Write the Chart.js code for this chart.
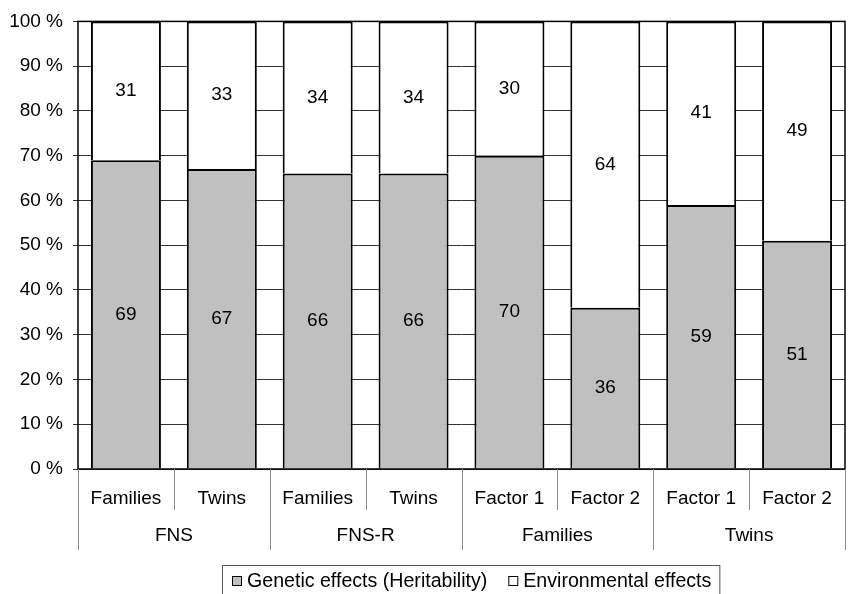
<!DOCTYPE html>
<html>
<head>
<meta charset="utf-8">
<script src="https://cdn.jsdelivr.net/npm/chart.js@4.4.0/dist/chart.umd.min.js"></script>
<style>
  html, body { margin: 0; padding: 0; background: #fff; }
  #wrap { position: relative; width: 849px; height: 594px; }
</style>
</head>
<body>
<div id="wrap"><canvas id="chart"></canvas></div>
<script>
'use strict';

const categories = ['Families', 'Twins', 'Families', 'Twins', 'Factor 1', 'Factor 2', 'Factor 1', 'Factor 2'];
const groups = ['FNS', 'FNS-R', 'Families', 'Twins'];
const genetic = [69, 67, 66, 66, 70, 36, 59, 51];
const environmental = [31, 33, 34, 34, 30, 64, 41, 49];
const seriesNames = ['Genetic effects (Heritability)', 'Environmental effects'];
const seriesColors = ['#c0c0c0', '#ffffff'];

const FAMILY = '"Liberation Sans", Arial, sans-serif';
const FONT = '19px ' + FAMILY;

// numbers in the middle of every bar segment
const segmentLabels = {
  id: 'segmentLabels',
  afterDatasetsDraw(chart) {
    const ctx = chart.ctx;
    ctx.save();
    ctx.font = FONT;
    ctx.fillStyle = '#000';
    ctx.textAlign = 'center';
    ctx.textBaseline = 'middle';
    chart.data.datasets.forEach((ds, i) => {
      chart.getDatasetMeta(i).data.forEach((bar, j) => {
        ctx.fillText(ds.data[j], bar.x, (bar.y + bar.base) / 2);
      });
    });
    ctx.restore();
  }
};

// frame, grouped x axis and boxed legend
const frameAndGroups = {
  id: 'frameAndGroups',
  afterDraw(chart) {
    const ctx = chart.ctx;
    const area = chart.chartArea;
    const x = chart.scales.x;
    ctx.save();

    ctx.strokeStyle = '#000';
    ctx.lineWidth = 1.5;
    ctx.strokeRect(area.left, area.top, area.right - area.left, area.bottom - area.top);

    // separators under the axis
    ctx.strokeStyle = '#8c8c8c';
    ctx.lineWidth = 1;
    for (let i = 0; i <= categories.length; i++) {
      let px;
      if (i === 0) px = area.left;
      else if (i === categories.length) px = area.right;
      else px = (x.getPixelForValue(i - 1) + x.getPixelForValue(i)) / 2;
      const len = i % 2 === 0 ? 81 : 41;
      px = Math.round(px) + 0.5;
      ctx.beginPath();
      ctx.moveTo(px, area.bottom);
      ctx.lineTo(px, area.bottom + len);
      ctx.stroke();
    }

    ctx.font = FONT;
    ctx.fillStyle = '#000';
    ctx.textAlign = 'center';
    ctx.textBaseline = 'middle';
    groups.forEach((g, k) => {
      const cx = (x.getPixelForValue(2 * k) + x.getPixelForValue(2 * k + 1)) / 2;
      ctx.fillText(g, cx, area.bottom + 67);
    });

    // legend
    const boxLeft = 222, boxTop = 565, ly = 581;
    ctx.font = '19.6px ' + FAMILY;
    ctx.textAlign = 'left';
    let lx = boxLeft + 10;
    seriesNames.forEach((name, i) => {
      ctx.fillStyle = seriesColors[i];
      ctx.fillRect(lx, ly - 5, 10, 10);
      ctx.strokeStyle = '#000';
      ctx.lineWidth = 1;
      ctx.strokeRect(lx + 0.5, ly - 4.5, 9, 9);
      ctx.fillStyle = '#000';
      ctx.fillText(name, lx + 15, ly + 1);
      lx += 15 + ctx.measureText(name).width + 21;
    });
    const boxRight = lx - 21 + 8;
    ctx.strokeStyle = '#555';
    ctx.lineWidth = 1;
    ctx.strokeRect(boxLeft + 0.5, boxTop + 0.5, boxRight - boxLeft, 40);

    ctx.restore();
  }
};

new Chart(document.getElementById('chart'), {
  type: 'bar',
  data: {
    labels: categories,
    datasets: [
      {
        label: seriesNames[0],
        data: genetic,
        backgroundColor: seriesColors[0],
        borderColor: '#000',
        borderWidth: 2,
        barPercentage: 0.73,
        categoryPercentage: 1
      },
      {
        label: seriesNames[1],
        data: environmental,
        backgroundColor: seriesColors[1],
        borderColor: '#000',
        borderWidth: 2,
        barPercentage: 0.73,
        categoryPercentage: 1
      }
    ]
  },
  options: {
    responsive: true,
    maintainAspectRatio: false,
    animation: false,
    layout: { padding: { top: 20, right: 4, left: 0, bottom: 0 } },
    plugins: {
      legend: { display: false },
      tooltip: { enabled: false }
    },
    scales: {
      x: {
        stacked: true,
        grid: { display: false },
        border: { display: false },
        ticks: {
          color: '#000',
          font: { family: FAMILY, size: 19 },
          padding: 10,
          maxRotation: 0,
          autoSkip: false
        },
        afterFit(s) { s.height = 125; }
      },
      y: {
        stacked: true,
        min: 0,
        max: 100,
        ticks: {
          stepSize: 10,
          callback: v => v + ' %',
          color: '#000',
          font: { family: FAMILY, size: 19 },
          padding: 10
        },
        grid: { color: '#333', lineWidth: 1, tickLength: 5 },
        border: { display: false },
        afterFit(s) { s.width = 78; }
      }
    }
  },
  plugins: [segmentLabels, frameAndGroups]
});
</script>
</body>
</html>
